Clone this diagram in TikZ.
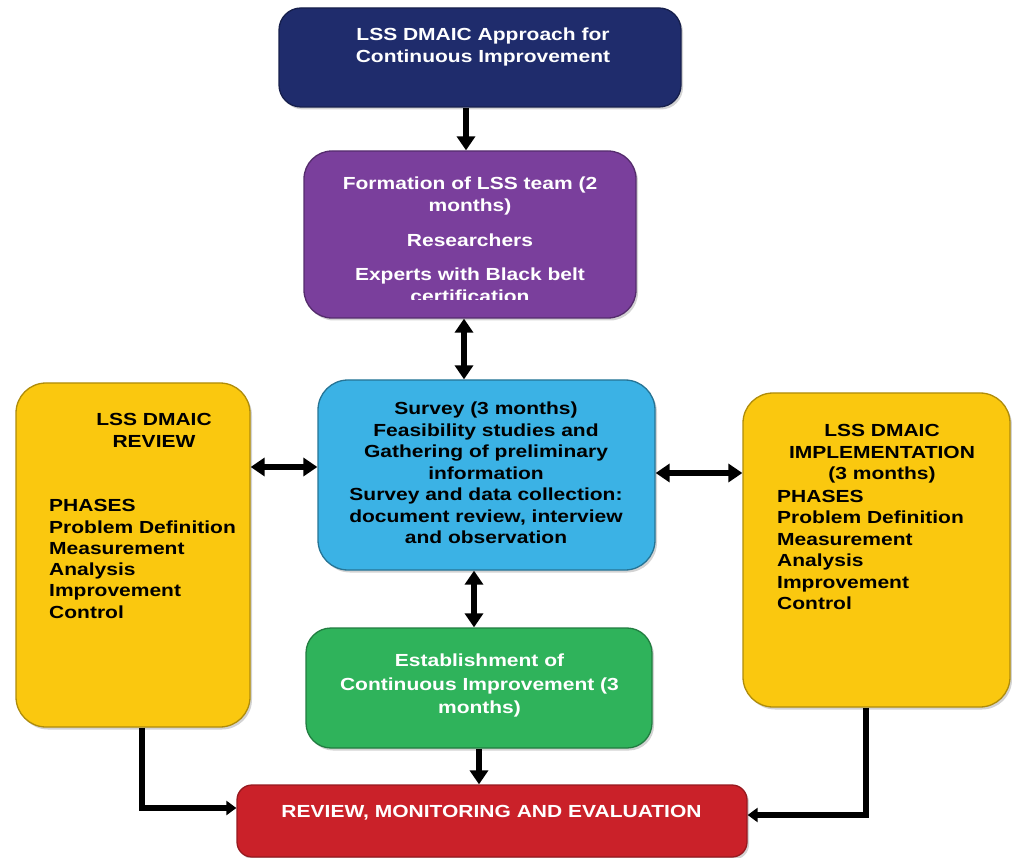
\documentclass[tikz,border=0pt]{standalone}
\usepackage{fontspec}
\setmainfont{Liberation Sans}[FakeStretch=1.2]
\usetikzlibrary{arrows.meta,shadows,calc}
\definecolor{navy}{HTML}{1F2C6C}
\definecolor{purp}{HTML}{7A3F9C}
\definecolor{sky}{HTML}{3BB2E5}
\definecolor{gold}{HTML}{FAC80F}
\definecolor{grn}{HTML}{2FB35B}
\definecolor{rd}{HTML}{CA2129}
\begin{document}
\begin{tikzpicture}[x=1pt,y=-1pt,
  box/.style={rounded corners=#1, line width=1.3pt, inner sep=0pt,
    drop shadow={opacity=0.35,shadow xshift=2pt,shadow yshift=-2.5pt}},
  txt/.style={font=\fontsize{17.5}{21.5}\selectfont\bfseries, align=center, inner sep=0pt},
  conn/.style={line width=5.5pt, -{Triangle[length=14pt,width=18pt]}},
  elb/.style={line width=5.5pt, -{Triangle[length=10pt,width=14pt]}},
  dconn/.style={line width=5.5pt, {Triangle[length=14pt,width=18pt]}-{Triangle[length=14pt,width=18pt]}}]
\useasboundingbox (0,0) rectangle (1012,858);
% boxes
\node[box=22pt, fill=navy, draw=navy!70!black, minimum width=402pt, minimum height=99pt] (top) at (480,57.5) {};
\node[box=28pt, fill=purp, draw=purp!70!black, minimum width=332pt, minimum height=167pt] (purple) at (470,234.5) {};
\node[box=30pt, fill=sky, draw=sky!65!black, minimum width=337pt, minimum height=190pt] (blue) at (486.5,475) {};
\node[box=30pt, fill=gold, draw=gold!70!black, minimum width=234pt, minimum height=344pt] (left) at (133,555) {};
\node[box=30pt, fill=gold, draw=gold!70!black, minimum width=267pt, minimum height=314pt] (right) at (876.5,550) {};
\node[box=25pt, fill=grn, draw=grn!70!black, minimum width=346pt, minimum height=120pt] (green) at (479,688) {};
\node[box=15pt, fill=rd, draw=rd!75!black, minimum width=510pt, minimum height=72pt] (red) at (492,821) {};
% texts
\node[txt, text=white] (toptxt) at (483,47) {LSS DMAIC Approach for\\Continuous Improvement};
\begin{scope}
\clip (300,150) rectangle (640,300);
\node[txt, text=white] (p1) at (470,196) {Formation of LSS team (2\\months)};
\node[txt, text=white] (p2) at (470,240.5) {Researchers};
\node[txt, text=white, font=\fontsize{17.5}{22}\selectfont\bfseries] (p3) at (470,285.5) {Experts with Black belt\\certification};
\end{scope}
\node[txt, text=black] (bluetxt) at (486,473) {Survey (3 months)\\Feasibility studies and\\Gathering of preliminary\\information\\Survey and data collection:\\document review, interview\\and observation};
\node[txt, text=black] (lhead) at (154,430.5) {LSS DMAIC\\REVIEW};
\node[txt, text=black, align=left, anchor=west, font=\fontsize{17.5}{21.3}\selectfont\bfseries] (lbody) at (49,559) {PHASES\\Problem Definition\\Measurement\\Analysis\\Improvement\\Control};
\node[txt, text=black] (rhead) at (882,454) {LSS DMAIC\\IMPLEMENTATION\\(3 months)};
\node[txt, text=black, align=left, anchor=west, font=\fontsize{17.5}{21.5}\selectfont\bfseries] (rbody) at (777,550) {PHASES\\Problem Definition\\Measurement\\Analysis\\Improvement\\Control};
\node[txt, text=white, font=\fontsize{17.5}{23.5}\selectfont\bfseries] (grntxt) at (479.5,685.5) {Establishment of\\Continuous Improvement (3\\months)};
\node[txt, text=white] (redtxt) at (491.5,813) {REVIEW, MONITORING AND EVALUATION};
% connectors
\coordinate (x1) at (466,0);
\coordinate (x2) at (464,0);
\coordinate (x3) at (474,0);
\coordinate (x4) at (479,0);
\coordinate (yl) at (0,467);
\coordinate (yr) at (0,473);
\coordinate (el) at (142,808);
\coordinate (er) at (866,815);
\draw[conn] (top.south -| x1) -- (purple.north -| x1);
\draw[dconn] (purple.south -| x2) -- (blue.north -| x2);
\draw[dconn] (left.east |- yl) -- (blue.west |- yl);
\draw[dconn] (blue.east |- yr) -- (right.west |- yr);
\draw[dconn] (blue.south -| x3) -- (green.north -| x3);
\draw[conn] (green.south -| x4) -- (red.north -| x4);
\draw[elb] (left.south -| el) |- (red.west |- el);
\draw[elb] (right.south -| er) |- (red.east |- er);
\end{tikzpicture}
\end{document}
